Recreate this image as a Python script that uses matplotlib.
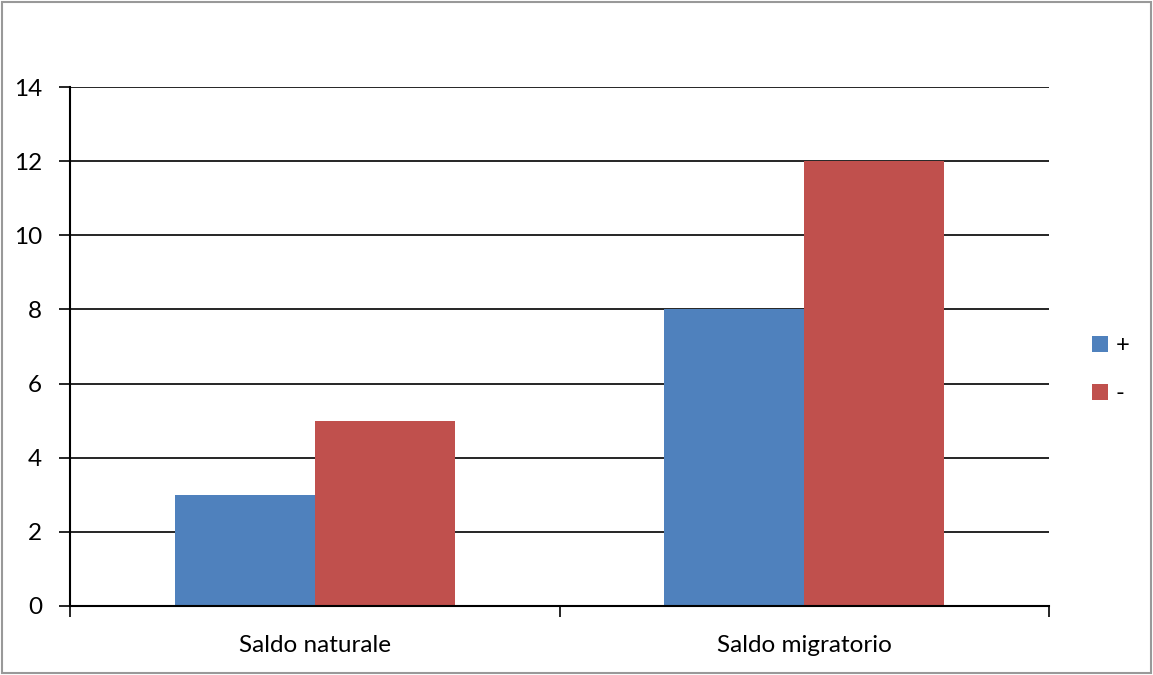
import numpy as np
import matplotlib.pyplot as plt
from matplotlib.patches import Rectangle

categories = ['Saldo naturale', 'Saldo migratorio']
plus_values = [3, 8]
minus_values = [5, 12]
series_names = ['+', '-']
colors = ['#4F81BD', '#C0504D']

plt.rcParams['font.family'] = ['Lato', 'DejaVu Sans']

fig = plt.figure(figsize=(11.53, 6.75), dpi=100)
ax = fig.add_axes([70 / 1153, 1 - 606 / 675, 979 / 1153, 519 / 675])

x = np.arange(len(categories))
w = 0.286
ax.bar(x - w / 2, plus_values, w, color=colors[0], label=series_names[0])
ax.bar(x + w / 2, minus_values, w, color=colors[1], label=series_names[1])

ax.set_xlim(-0.5, 1.5)
ax.set_ylim(0, 14)
ax.set_yticks(range(0, 15, 2))
ax.yaxis.grid(True, color='black', linewidth=1.2)
ax.set_axisbelow(True)
ax.set_xticks(x)
ax.set_xticklabels(categories)
ax.set_xticks([-0.5, 0.5, 1.5], minor=True)
ax.tick_params(axis='x', which='major', length=0, labelsize=17.5, pad=21)
ax.tick_params(axis='x', which='minor', length=8, width=1.2, direction='out')
ax.tick_params(axis='y', length=8, width=1.2, labelsize=17.5, pad=12)
for s in ['top', 'right']:
    ax.spines[s].set_visible(False)
for s in ['left', 'bottom']:
    ax.spines[s].set_linewidth(1.5)

ax.legend(loc='center left', bbox_to_anchor=(1.022, 0.455), frameon=False,
          fontsize=17, handlelength=0.7, handleheight=0.7, handletextpad=0.3,
          labelspacing=1.15)

fig.patches.append(Rectangle((0.002, 0.003), 0.996, 0.994, transform=fig.transFigure,
                             fill=False, edgecolor='#999999', linewidth=1.5))

fig.savefig('out.png', dpi=100)
